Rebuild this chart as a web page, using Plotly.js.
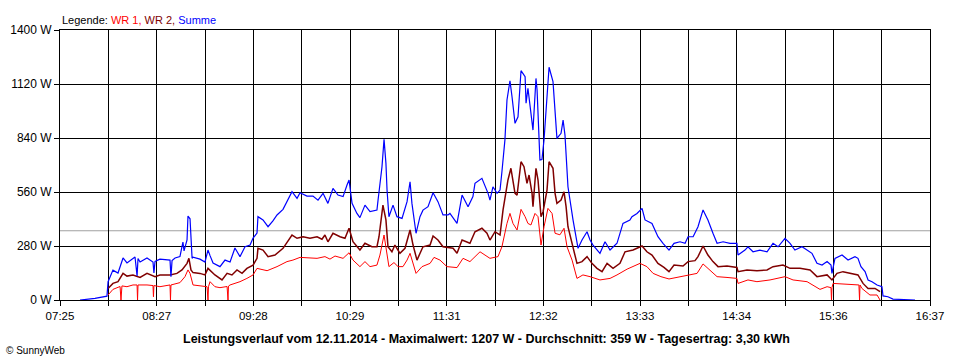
<!DOCTYPE html>
<html>
<head>
<meta charset="utf-8">
<script src="https://cdn.plot.ly/plotly-3.0.1.min.js"></script>
<style>html,body{margin:0;padding:0;background:#fff;}#chart{width:960px;height:360px;}</style>
</head>
<body>
<div id="chart"></div>
<script>
// Time in minutes since midnight, power in W
const tickLabels = ["07:25","08:27","09:28","10:29","11:31","12:32","13:33","14:34","15:36","16:37"];
const rangeStart = 445, rangeEnd = 997;   // 07:25 .. 16:37
const average = 359;

const sumTime = [457.7,467.2,474.8,475.5,478.6,481.8,485.0,487.5,492.6,493.9,494.5,495.8,500.2,504.0,504.6,505.3,508.4,514.8,515.4,516.1,518.0,521.1,523.0,523.7,525.6,526.2,527.5,528.8,529.4,533.8,537.0,538.9,540.2,542.1,546.5,549.7,552.9,556.0,559.2,562.4,565.6,567.5,570.0,570.6,573.8,577.0,580.1,582.7,586.5,590.9,592.2,595.4,597.3,601.7,605.5,608.7,611.9,615.0,618.2,621.4,624.6,627.1,628.4,630.3,633.4,635.3,638.5,641.7,646.1,646.8,649.3,650.6,651.8,652.5,653.7,656.3,658.8,662.0,665.2,667.1,668.3,670.9,673.4,675.3,678.5,681.7,684.8,688.0,691.2,692.4,696.9,700.1,703.9,707.0,708.3,712.7,716.6,717.8,719.7,722.3,724.2,725.4,727.3,728.6,730.5,731.8,733.7,735.6,737.5,740.1,740.7,741.9,743.8,745.1,747.0,747.7,749.5,750.8,752.1,754.0,755.3,757.8,759.1,760.3,762.9,764.2,765.4,767.3,770.5,773.7,776.2,779.4,781.3,783.2,787.6,790.8,794.0,798.4,802.2,806.6,807.9,811.1,814.3,816.2,820.6,824.4,827.6,831.4,834.6,838.4,841.6,843.5,846.7,849.8,853.0,856.1,859.3,861.9,865.7,870.1,874.5,875.2,879.6,881.5,884.7,889.1,893.6,897.4,900.6,903.7,905.0,908.2,911.3,915.8,919.0,922.1,925.3,928.5,931.7,934.2,934.8,936.7,941.2,945.0,949.4,951.3,953.2,955.8,957.7,960.2,963.4,966.5,967.2,970.3,973.5,987.5];
const sumW = [0,8,20,95,155,140,218,192,223,125,215,197,218,197,140,200,212,207,121,205,218,225,300,255,311,435,421,216,222,212,197,259,230,192,173,207,197,270,225,276,285,321,347,432,415,380,410,441,470,536,562,527,556,539,539,518,553,501,579,544,536,596,622,501,449,427,492,458,466,518,691,833,709,570,432,492,432,423,510,613,501,346,432,466,484,556,510,441,441,449,397,544,484,536,605,631,553,518,587,553,570,665,830,1037,1137,1054,916,950,1189,1158,1020,1098,968,881,1149,1089,726,728,830,1072,1207,1132,985,838,864,933,855,587,415,268,311,354,311,285,242,302,259,294,397,415,432,449,475,415,397,328,294,259,294,302,294,328,328,380,467,415,346,294,302,294,294,233,259,276,250,259,250,294,276,311,320,294,259,276,259,242,190,181,199,181,138,216,233,207,225,216,173,147,104,95,78,69,21,17,5,0];

const wr1Time = [475.5,478.6,483.1,483.7,484.3,487.5,491.3,493.9,494.2,494.5,500.2,504.0,504.3,504.6,508.4,514.8,515.1,515.4,521.1,524.3,526.2,527.5,529.4,533.8,538.3,538.9,539.2,540.2,543.3,546.5,551.0,551.6,551.9,552.9,559.2,563.6,567.5,570.0,576.4,582.7,589.0,592.8,597.3,608.1,613.1,616.3,619.5,624.6,628.4,630.9,635.3,638.5,641.7,646.1,648.0,650.6,652.5,653.7,656.9,659.5,662.6,665.2,667.1,669.0,670.9,674.7,679.8,682.3,686.1,690.5,696.9,700.7,705.1,711.5,717.8,722.9,725.4,728.6,730.5,732.4,735.0,737.5,740.1,741.9,743.8,746.4,748.3,750.2,752.1,754.6,757.2,759.1,762.2,764.8,766.7,769.9,773.0,776.8,781.3,787.6,794.0,798.4,804.8,813.0,817.4,821.3,826.3,831.4,838.4,849.2,853.0,857.4,861.9,868.2,874.5,875.2,881.5,887.2,895.5,905.0,910.1,919.0,922.8,927.2,931.7,934.2,934.5,934.8,935.5,944.3,951.9,952.3,952.6,953.8,958.9,963.4,965.3];
const wr1W = [26,55,70,0,73,69,78,78,0,78,78,75,17,75,69,78,0,78,90,121,156,138,78,73,69,0,69,95,69,64,70,0,72,78,95,112,130,164,152,173,199,207,221,216,225,212,228,216,245,207,173,199,173,181,233,337,242,173,194,173,173,207,242,190,138,173,190,221,207,173,168,216,199,250,216,225,276,397,449,397,363,470,432,397,389,449,432,285,380,475,449,346,338,372,276,207,112,130,121,104,112,130,160,190,173,138,121,109,121,138,187,156,121,117,112,86,104,95,104,121,104,95,78,55,69,64,0,64,86,83,78,0,78,60,26,26,0];

const wr2Time = [475.5,478.6,481.8,485.0,487.5,491.3,495.8,500.2,505.3,508.4,514.8,519.2,522.4,525.6,526.8,528.1,529.4,533.8,537.0,538.9,543.3,547.8,551.0,554.1,557.3,560.5,563.6,567.5,570.0,570.6,573.8,577.0,581.4,586.5,592.2,595.4,599.2,603.6,608.1,611.2,613.1,615.0,618.2,622.7,625.8,628.4,630.9,635.3,638.5,642.9,646.1,647.4,649.9,651.8,653.1,655.6,657.5,660.7,663.9,667.1,669.0,671.5,675.3,679.8,681.7,684.8,688.0,691.2,694.4,696.9,700.1,705.1,708.3,712.7,715.9,717.8,721.0,724.2,726.1,729.2,731.1,733.7,735.0,737.5,739.4,741.3,742.6,744.5,745.1,747.0,748.3,750.2,751.5,754.0,755.3,757.8,759.1,760.3,762.9,764.8,766.1,767.3,770.5,773.0,776.2,779.4,782.5,785.7,788.9,792.1,795.9,800.3,803.5,808.6,814.3,817.4,820.6,824.4,828.2,831.4,834.6,840.3,843.5,847.9,849.8,853.0,856.1,859.3,862.5,868.2,874.5,875.2,880.9,887.2,893.6,897.4,903.7,908.2,914.5,920.9,925.3,931.7,934.8,938.0,941.8,948.1,951.3,954.5,957.7,962.1,965.3];
const wr2W = [60,86,95,138,124,130,117,138,121,130,130,138,156,190,216,156,142,138,130,164,130,104,138,130,156,138,164,181,216,268,259,225,233,268,337,320,328,320,328,315,337,302,346,328,320,372,302,259,294,276,276,328,492,415,276,250,285,242,268,363,285,207,276,285,332,311,276,273,268,242,311,294,354,372,346,311,354,337,467,622,683,553,544,717,691,605,648,553,484,683,622,432,458,570,717,683,553,501,518,561,484,380,276,190,199,225,190,164,147,190,164,190,250,259,280,250,233,190,169,147,181,176,199,204,225,280,233,199,173,176,169,147,156,152,156,173,181,164,164,156,121,130,104,138,147,138,130,86,60,60,43];

const yTicks = [0,280,560,840,1120,1400];

// grid every half label step
const nGrid = (tickLabels.length - 1) * 2;
const gridVals = [], gridText = [];
for (let k = 0; k <= nGrid; k++) {
  gridVals.push(rangeStart + k * (rangeEnd - rangeStart) / nGrid);
  gridText.push(k % 2 === 0 ? tickLabels[k / 2] : "");
}

const FONT = "Liberation Sans, Arial, sans-serif";

const traces = [
  {x: wr1Time, y: wr1W, type: "scatter", mode: "lines", name: "WR 1", line: {color: "#ff0000", width: 1}},
  {x: wr2Time, y: wr2W, type: "scatter", mode: "lines", name: "WR 2", line: {color: "#800000", width: 1.5}},
  {x: sumTime, y: sumW, type: "scatter", mode: "lines", name: "Summe", line: {color: "#0000ff", width: 1.2}}
];

const layout = {
  width: 960, height: 360,
  margin: {l: 60, r: 30, t: 30, b: 60},
  paper_bgcolor: "#ffffff", plot_bgcolor: "#ffffff",
  showlegend: false,
  font: {family: FONT, size: 11, color: "#000"},
  xaxis: {
    range: [rangeStart, rangeEnd], tickmode: "array", tickvals: gridVals, ticktext: gridText,
    showgrid: true, gridcolor: "#000", gridwidth: 1, zeroline: false,
    showline: true, linecolor: "#000", linewidth: 1, mirror: true,
    ticks: "outside", ticklen: 5, tickcolor: "#000", tickfont: {family: FONT, size: 11.5}, fixedrange: true
  },
  yaxis: {
    range: [0, 1400], tickmode: "array", tickvals: yTicks, ticktext: yTicks.map(v => v + " W"),
    showgrid: true, gridcolor: "#000", gridwidth: 1, zeroline: false,
    showline: true, linecolor: "#000", linewidth: 1, mirror: true,
    ticks: "outside", ticklen: 5, tickcolor: "#000", tickfont: {family: FONT, size: 12}, fixedrange: true
  },
  shapes: [
    {type: "line", xref: "paper", x0: 0, x1: 1, yref: "y", y0: average, y1: average,
     line: {color: "#a0a0a0", width: 1}, layer: "below"}
  ],
  annotations: [
    {xref: "paper", yref: "paper", x: 0, y: 1, xanchor: "left", yanchor: "bottom", yshift: 2, showarrow: false,
     text: 'Legende: <span style="color:#ff0000">WR 1,</span> <span style="color:#800000">WR 2,</span> <span style="color:#0000ff">Summe</span>',
     font: {family: FONT, size: 11, color: "#000"}},
    {xref: "paper", yref: "paper", x: 0.49, y: 0, xanchor: "center", yanchor: "middle", yshift: -39, showarrow: false,
     text: "<b>Leistungsverlauf vom 12.11.2014 - Maximalwert: 1207 W - Durchschnitt: " + average + " W - Tagesertrag: 3,30 kWh</b>",
     font: {family: FONT, size: 12.5, color: "#000"}},
    {xref: "paper", yref: "paper", x: -0.064, y: 0, xanchor: "left", yanchor: "middle", yshift: -50, showarrow: false,
     text: "© SunnyWeb", font: {family: FONT, size: 10, color: "#000"}}
  ]
};

Plotly.newPlot("chart", traces, layout, {staticPlot: true, displayModeBar: false});
</script>
</body>
</html>
